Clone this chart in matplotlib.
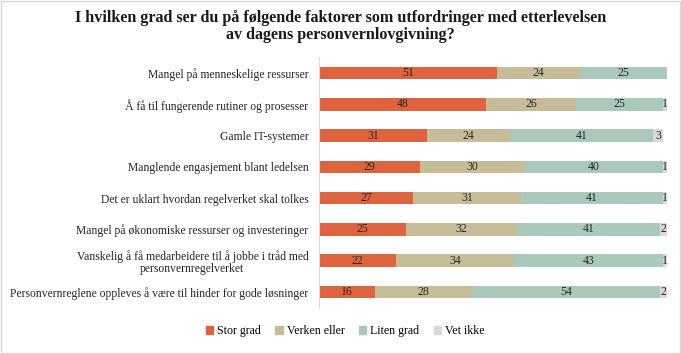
import matplotlib
matplotlib.use("Agg")
import matplotlib.pyplot as plt
import numpy as np

categories = [
    "Mangel på menneskelige ressurser",
    "Å få til fungerende rutiner og prosesser",
    "Gamle IT-systemer",
    "Manglende engasjement blant ledelsen",
    "Det er uklart hvordan regelverket skal tolkes",
    "Mangel på økonomiske ressurser og investeringer",
    "Vanskelig å få medarbeidere til å jobbe i tråd med\npersonvernregelverket",
    "Personvernreglene oppleves å være til hinder for gode løsninger",
]
series_names = ["Stor grad", "Verken eller", "Liten grad", "Vet ikke"]
stor_grad = [51, 48, 31, 29, 27, 25, 22, 16]
verken_eller = [24, 26, 24, 30, 31, 32, 34, 28]
liten_grad = [25, 25, 41, 40, 41, 41, 43, 54]
vet_ikke = [0, 1, 3, 1, 1, 2, 1, 2]

colors = ["#DE643F", "#C6BD98", "#A9C9BB", "#D9D9D9"]
title = "I hvilken grad ser du på følgende faktorer som utfordringer med etterlevelsen\nav dagens personvernlovgivning?"

plt.rcParams['font.family'] = ['Liberation Serif', 'DejaVu Serif']

fig = plt.figure(figsize=(6.81, 3.54), dpi=100)
ax = fig.add_axes([0.469, 0.131, 0.510, 0.707])

y = np.arange(len(categories))
left = np.zeros(len(categories))
for name, vals, col in zip(series_names, [stor_grad, verken_eller, liten_grad, vet_ikke], colors):
    vals = np.array(vals, dtype=float)
    ax.barh(y, vals, left=left, height=0.4, color=col, label=name)
    for yi, (l, v) in enumerate(zip(left, vals)):
        if v > 0:
            ax.text(l + v / 2, yi, f"{int(v)}", ha="center", va="center",
                    fontsize=8.5, color="#262626")
    left += vals

ax.set_xlim(0, 100)
ax.set_ylim(len(categories) - 0.5, -0.5)
ax.set_yticks(y)
ax.set_yticklabels(categories, fontsize=8.4, color="#262626", linespacing=1.0)
ax.tick_params(axis="y", length=0, pad=8)
ax.set_xticks([])
for s in ["top", "right", "bottom"]:
    ax.spines[s].set_visible(False)
ax.spines["left"].set_color("#D9D9D9")
for lbl in ax.get_yticklabels():
    lbl.set_multialignment("center")

fig.text(0.5, 0.972, title, ha="center", va="top", fontsize=11.6,
         fontweight="bold", color="#1a1a1a", linespacing=1.05)

handles = [plt.Rectangle((0, 0), 1, 1, color=c) for c in colors]
fig.legend(handles, series_names, loc="center", bbox_to_anchor=(0.507, 0.065),
           ncol=4, frameon=False, fontsize=8.6, handlelength=0.6, handleheight=0.6,
           columnspacing=1.2, handletextpad=0.35)

border = plt.Rectangle((0.002, 0.003), 0.996, 0.994, transform=fig.transFigure,
                       fill=False, edgecolor="#D9D9D9", linewidth=1)
fig.patches.append(border)

fig.savefig("out.png", dpi=100)
